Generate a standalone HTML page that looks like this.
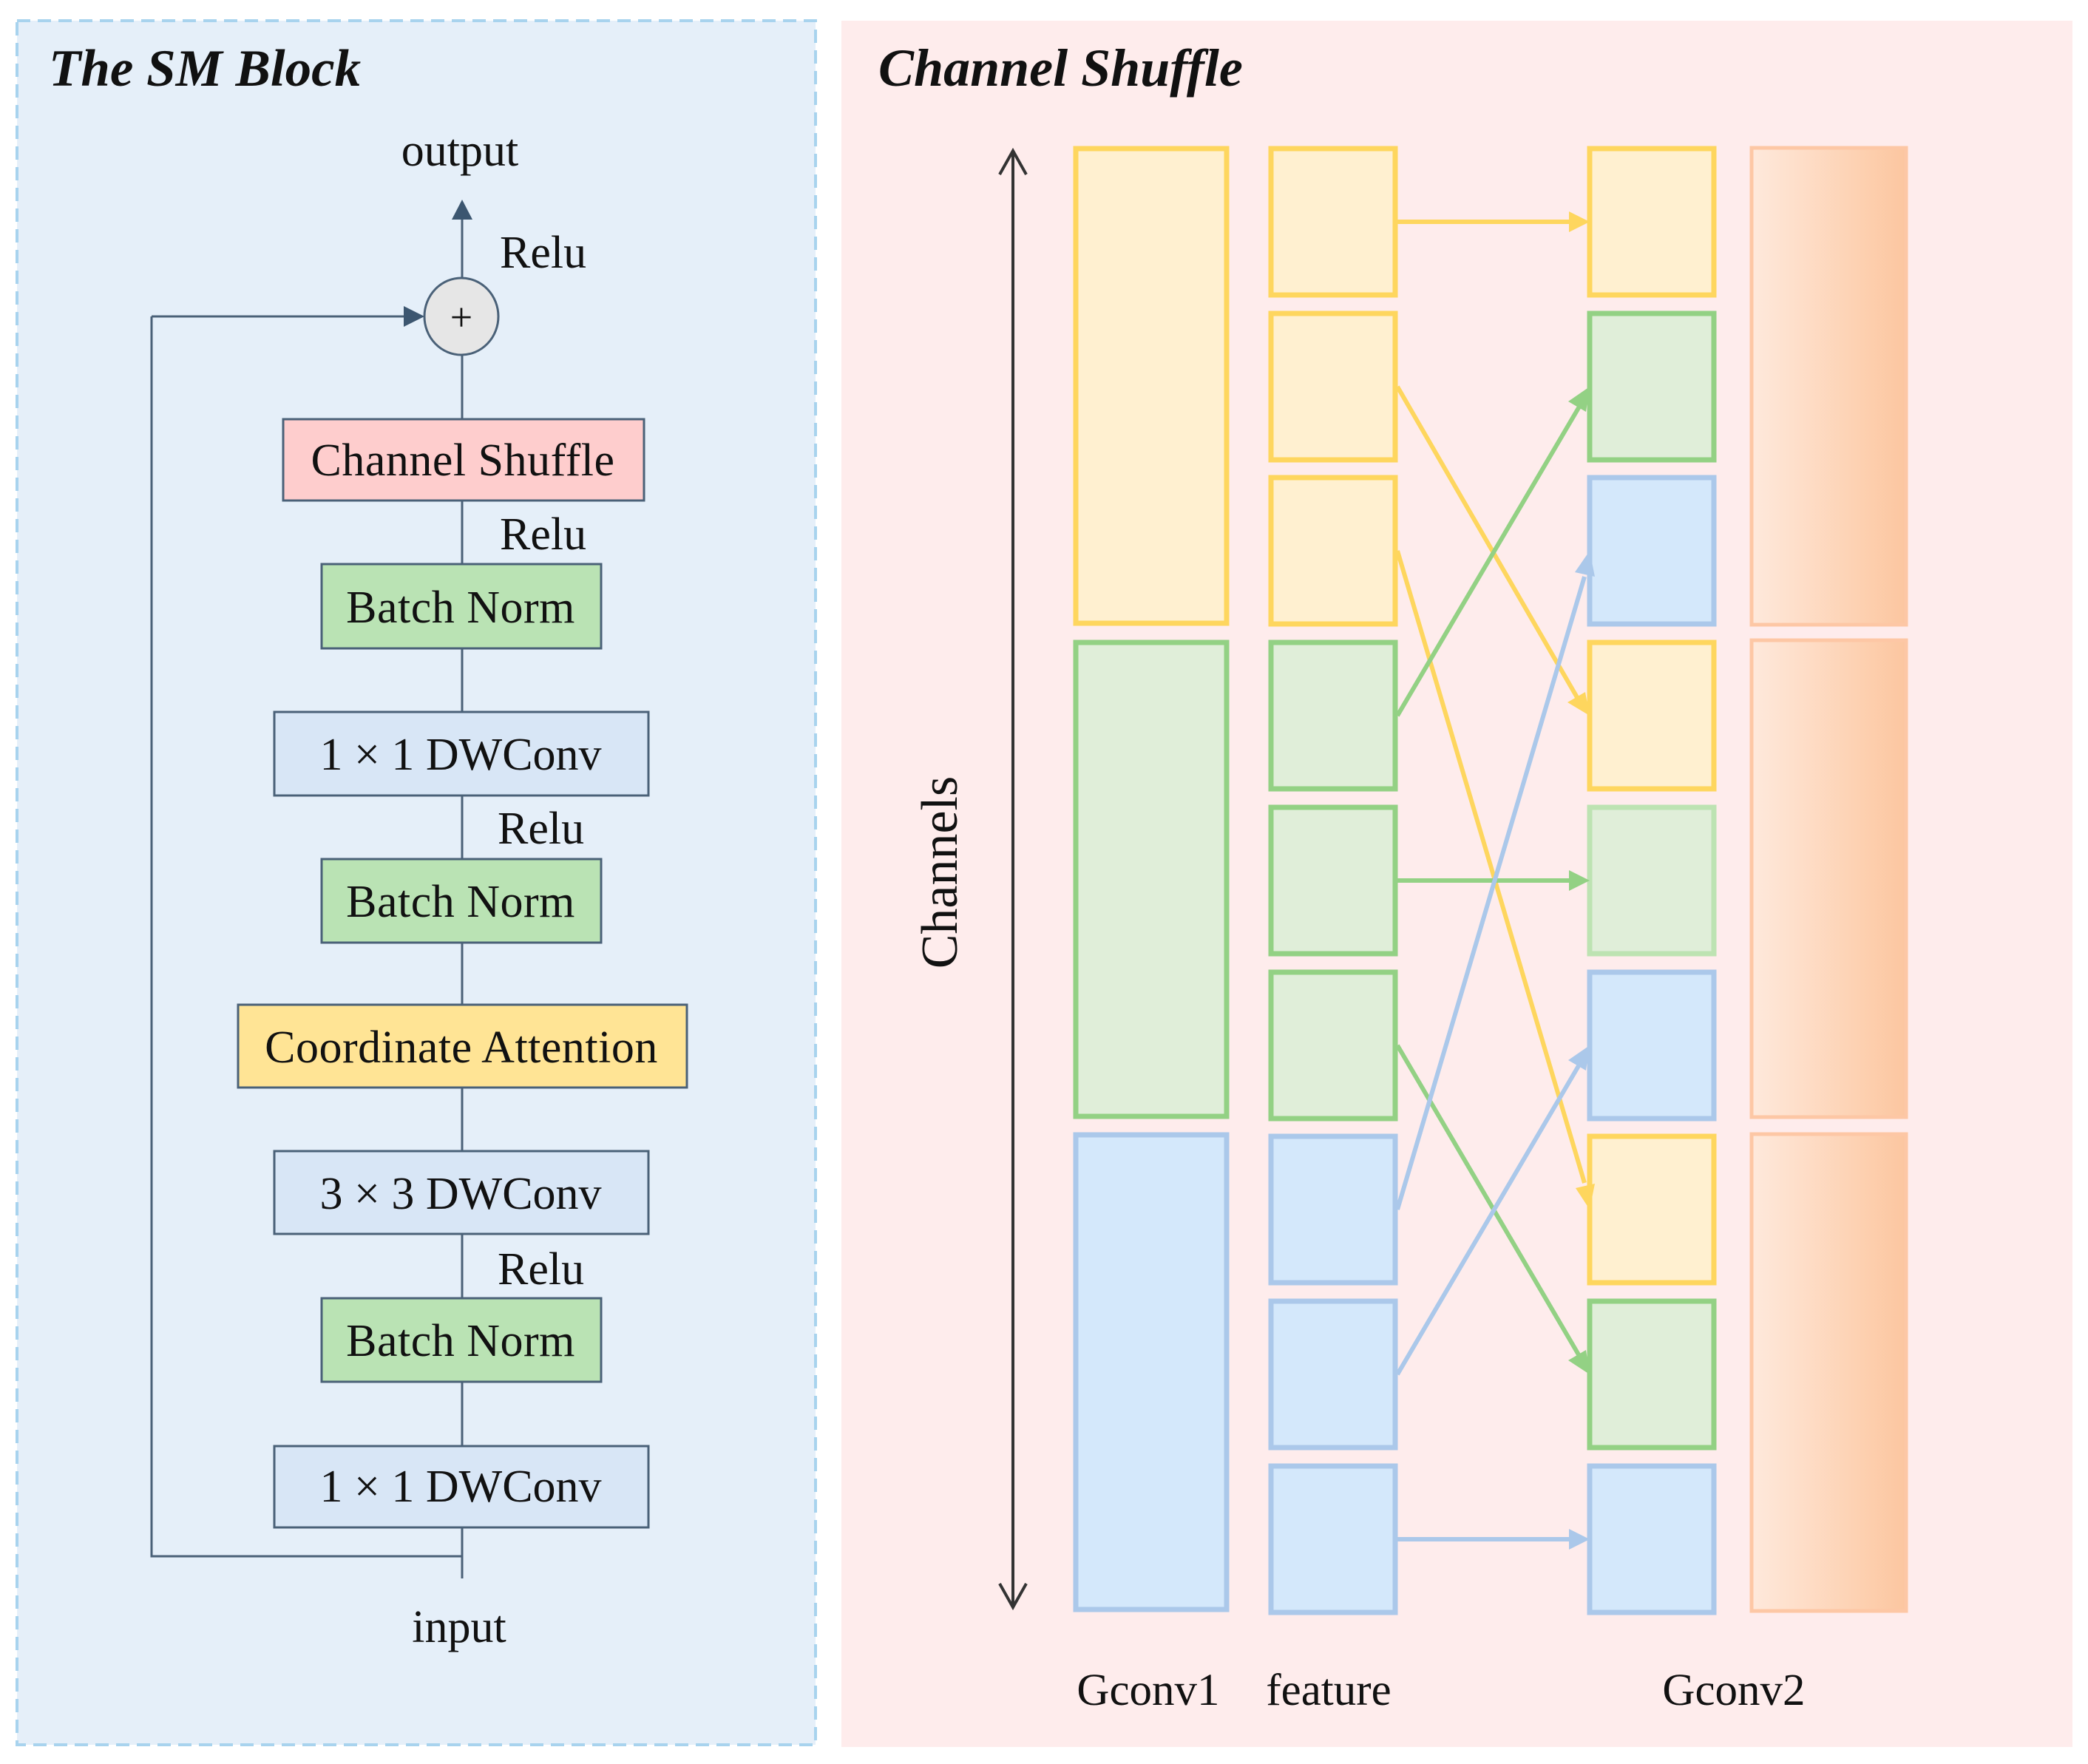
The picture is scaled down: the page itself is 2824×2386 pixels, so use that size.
<!DOCTYPE html>
<html><head><meta charset="utf-8"><style>
html,body{margin:0;padding:0;background:#fff}
svg{display:block}
text{font-family:"Liberation Serif",serif;fill:#111}
</style></head><body>
<svg width="2824" height="2386" viewBox="0 0 2824 2386" xmlns="http://www.w3.org/2000/svg">
<defs>
<linearGradient id="og" x1="0" x2="1" y1="0" y2="0">
<stop offset="0" stop-color="#fee9dc"/><stop offset="0.75" stop-color="#fdcfae"/><stop offset="1" stop-color="#fcc6a0"/>
</linearGradient>
</defs>
<rect x="0" y="0" width="2824" height="2386" fill="#fff"/>
<rect x="23" y="28" width="1080" height="2332" fill="#e5eff9" stroke="#a8d3ee" stroke-width="4" stroke-dasharray="18,10"/>
<text x="66" y="116" font-size="71" font-weight="bold" font-style="italic">The SM Block</text>
<rect x="1138" y="28" width="1665" height="2335" fill="#feecec"/>
<text x="1188" y="116" font-size="72" font-weight="bold" font-style="italic">Channel Shuffle</text>

<g stroke="#4a6178" stroke-width="3" fill="none">
<line x1="625" y1="297" x2="625" y2="376"/>
<line x1="625" y1="480" x2="625" y2="2135"/>
<polyline points="205,428 205,2105 625,2105"/>
<line x1="205" y1="428" x2="548" y2="428"/>
</g>
<polygon points="625,270 611,297 639,297" fill="#3c5670"/>
<polygon points="574,428 546,414 546,442" fill="#3c5670"/>
<ellipse cx="624" cy="428" rx="50" ry="52" fill="#e6e6e6" stroke="#4a6178" stroke-width="3"/>
<text x="624" y="447" font-size="54" text-anchor="middle" fill="#333">+</text>
<text x="622" y="224" font-size="62" text-anchor="middle">output</text>
<text x="676" y="362" font-size="62">Relu</text>
<text x="676" y="743" font-size="62">Relu</text>
<text x="673" y="1141" font-size="62">Relu</text>
<text x="673" y="1737" font-size="62">Relu</text>
<text x="621" y="2221" font-size="62" text-anchor="middle">input</text>

<g stroke="#4a6178" stroke-width="3">
<rect x="383" y="567" width="488" height="110" fill="#fecdcd"/>
<rect x="435" y="763" width="378" height="114" fill="#bae3b4"/>
<rect x="371" y="963" width="506" height="113" fill="#d8e6f6"/>
<rect x="435" y="1162" width="378" height="113" fill="#bae3b4"/>
<rect x="322" y="1359" width="607" height="112" fill="#ffe495"/>
<rect x="371" y="1557" width="506" height="112" fill="#d8e6f6"/>
<rect x="435" y="1756" width="378" height="113" fill="#bae3b4"/>
<rect x="371" y="1956" width="506" height="110" fill="#d8e6f6"/>
</g>
<g font-size="62" text-anchor="middle">
<text x="626" y="643" letter-spacing="0.5">Channel Shuffle</text>
<text x="623" y="842" letter-spacing="0.5">Batch Norm</text>
<text x="623" y="1041">1 × 1 DWConv</text>
<text x="623" y="1240" letter-spacing="0.5">Batch Norm</text>
<text x="624" y="1437" letter-spacing="0.5">Coordinate Attention</text>
<text x="623" y="1635">3 × 3 DWConv</text>
<text x="623" y="1834" letter-spacing="0.5">Batch Norm</text>
<text x="623" y="2031">1 × 1 DWConv</text>
</g>

<line x1="1370" y1="205" x2="1370" y2="2172" stroke="#333" stroke-width="4"/>
<polyline points="1352,236 1370,204 1388,236" fill="none" stroke="#333" stroke-width="4"/>
<polyline points="1352,2142 1370,2174 1388,2142" fill="none" stroke="#333" stroke-width="4"/>
<text transform="translate(1294,1180) rotate(-90)" font-size="70" text-anchor="middle">Channels</text>

<g stroke-width="7">
<rect x="1455" y="201" width="204" height="642" fill="#fff0d0" stroke="#fed65e"/>
<rect x="1455" y="869" width="204" height="641" fill="#e0eed9" stroke="#93d184"/>
<rect x="1455" y="1535" width="204" height="642" fill="#d4e8fb" stroke="#abc8ea"/>
</g>
<g stroke-width="5">
<rect x="2369" y="200" width="209" height="645" fill="url(#og)" stroke="#fdc7a5"/>
<rect x="2369" y="866" width="209" height="645" fill="url(#og)" stroke="#fdc7a5"/>
<rect x="2369" y="1534" width="209" height="645" fill="url(#og)" stroke="#fdc7a5"/>
</g>

<g stroke-width="7">
<rect x="1719" y="201" width="168" height="198" fill="#fff0d0" stroke="#fed65e"/>
<rect x="1719" y="424" width="168" height="198" fill="#fff0d0" stroke="#fed65e"/>
<rect x="1719" y="646" width="168" height="198" fill="#fff0d0" stroke="#fed65e"/>
<rect x="1719" y="869" width="168" height="198" fill="#e0eed9" stroke="#93d184"/>
<rect x="1719" y="1092" width="168" height="198" fill="#e0eed9" stroke="#93d184"/>
<rect x="1719" y="1315" width="168" height="198" fill="#e0eed9" stroke="#93d184"/>
<rect x="1719" y="1537" width="168" height="198" fill="#d4e8fb" stroke="#abc8ea"/>
<rect x="1719" y="1760" width="168" height="198" fill="#d4e8fb" stroke="#abc8ea"/>
<rect x="1719" y="1983" width="168" height="198" fill="#d4e8fb" stroke="#abc8ea"/>
<rect x="2150" y="201" width="168" height="198" fill="#fff0d0" stroke="#fed65e"/>
<rect x="2150" y="424" width="168" height="198" fill="#e0eed9" stroke="#93d184"/>
<rect x="2150" y="646" width="168" height="198" fill="#d4e8fb" stroke="#abc8ea"/>
<rect x="2150" y="869" width="168" height="198" fill="#fff0d0" stroke="#fed65e"/>
<rect x="2150" y="1092" width="168" height="198" fill="#e0eed9" stroke="#bde3b2"/>
<rect x="2150" y="1315" width="168" height="198" fill="#d4e8fb" stroke="#abc8ea"/>
<rect x="2150" y="1537" width="168" height="198" fill="#fff0d0" stroke="#fed65e"/>
<rect x="2150" y="1760" width="168" height="198" fill="#e0eed9" stroke="#93d184"/>
<rect x="2150" y="1983" width="168" height="198" fill="#d4e8fb" stroke="#abc8ea"/>
</g>

<g stroke-width="6" fill="none">
<line x1="1890" y1="300" x2="2125" y2="300" stroke="#fed65e"/>
<line x1="1890" y1="523" x2="2134" y2="945" stroke="#fed65e"/>
<line x1="1890" y1="745" x2="2143" y2="1600" stroke="#fed65e"/>
<line x1="1890" y1="968" x2="2136" y2="550" stroke="#93d184"/>
<line x1="1890" y1="1191" x2="2125" y2="1191" stroke="#93d184"/>
<line x1="1890" y1="1414" x2="2136" y2="1834" stroke="#93d184"/>
<line x1="1890" y1="1636" x2="2143" y2="780" stroke="#abc8ea"/>
<line x1="1890" y1="1859" x2="2136" y2="1440" stroke="#abc8ea"/>
<line x1="1890" y1="2082" x2="2125" y2="2082" stroke="#abc8ea"/>
</g>
<g>
<polygon points="2150,300 2122,286 2122,314" fill="#fed65e"/>
<polygon points="2150,968 2120,950 2144,936" fill="#fed65e"/>
<polygon points="2150,1636 2131,1607 2157,1601" fill="#fed65e"/>
<polygon points="2150,523 2145,557 2121,543" fill="#93d184"/>
<polygon points="2150,1191 2122,1177 2122,1205" fill="#93d184"/>
<polygon points="2150,1859 2121,1840 2145,1826" fill="#93d184"/>
<polygon points="2150,745 2157,780 2130,774" fill="#abc8ea"/>
<polygon points="2150,1414 2145,1448 2121,1434" fill="#abc8ea"/>
<polygon points="2150,2082 2122,2068 2122,2096" fill="#abc8ea"/>
</g>

<g font-size="61" text-anchor="middle">
<text x="1553" y="2306">Gconv1</text>
<text x="1797" y="2306">feature</text>
<text x="2345" y="2306">Gconv2</text>
</g>
</svg>
</body></html>
